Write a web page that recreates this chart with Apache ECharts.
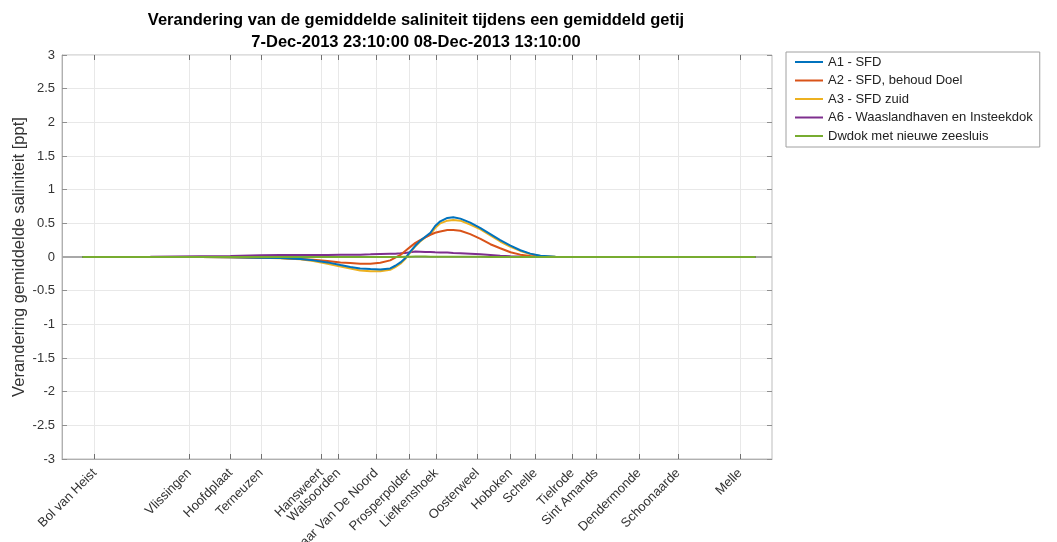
<!DOCTYPE html>
<html>
<head>
<meta charset="utf-8">
<script src="https://cdn.jsdelivr.net/npm/echarts@6/dist/echarts.min.js"></script>
<style>
html,body{margin:0;padding:0;background:#fff;}
#c{width:1057px;height:542px;}
</style>
</head>
<body>
<div id="c"></div>
<script>
// Station names and positions along the estuary (km, axis units)
const stationNames = ['Bol van Heist','Vlissingen','Hoofdplaat','Terneuzen','Hansweert','Walsoorden','Schaar Van De Noord','Prosperpolder','Liefkenshoek','Oosterweel','Hoboken','Schelle','Tielrode','Sint Amands','Dendermonde','Schoonaarde','Melle'];
const stationKm = [8.3, 32.3, 42.7, 50.5, 65.7, 70.1, 79.6, 88.1, 94.9, 105.3, 113.7, 120.0, 129.4, 135.4, 146.3, 156.2, 171.9];

// Sample positions (km)
const km = [5.2, 22.4, 35.1, 42.7, 50.3, 55.3, 60.4, 63.7, 67.3, 70.6, 73.1, 75.6, 78.2, 80.7, 83.2, 84.5, 85.8, 87.0, 88.3, 89.6, 90.8, 92.1, 93.4, 94.6, 95.9, 97.7, 99.2, 101.0, 103.5, 106.1, 108.6, 111.1, 113.7, 116.2, 118.7, 121.3, 125.1, 149.1, 175.8];

const a1 = [0, 0, 0, -0.005, -0.01, -0.015, -0.03, -0.05, -0.08, -0.12, -0.15, -0.17, -0.18, -0.185, -0.17, -0.13, -0.08, -0.02, 0.08, 0.17, 0.24, 0.30, 0.36, 0.46, 0.53, 0.58, 0.59, 0.57, 0.51, 0.43, 0.34, 0.25, 0.17, 0.10, 0.05, 0.02, 0.003, 0, 0];
const a2 = [0, 0, 0, -0.005, -0.01, -0.015, -0.03, -0.04, -0.06, -0.08, -0.09, -0.10, -0.10, -0.085, -0.05, -0.01, 0.03, 0.09, 0.15, 0.21, 0.25, 0.29, 0.33, 0.36, 0.38, 0.40, 0.40, 0.39, 0.34, 0.27, 0.19, 0.13, 0.07, 0.035, 0.015, 0.005, 0, 0, 0];
const a3 = [0, 0, 0, -0.005, -0.012, -0.02, -0.035, -0.06, -0.10, -0.14, -0.17, -0.20, -0.21, -0.21, -0.19, -0.15, -0.10, -0.03, 0.07, 0.16, 0.23, 0.29, 0.34, 0.43, 0.50, 0.54, 0.55, 0.54, 0.48, 0.41, 0.32, 0.23, 0.15, 0.09, 0.045, 0.015, 0.003, 0, 0];
const a6 = [0, 0.003, 0.01, 0.015, 0.025, 0.03, 0.03, 0.03, 0.03, 0.032, 0.033, 0.035, 0.04, 0.045, 0.05, 0.05, 0.055, 0.06, 0.07, 0.08, 0.078, 0.075, 0.073, 0.07, 0.068, 0.065, 0.06, 0.055, 0.048, 0.04, 0.03, 0.02, 0.012, 0.006, 0.002, 0, 0, 0, 0];
const dw = [0, 0, 0, 0, 0, 0, 0, 0, 0, 0, 0, 0, 0, 0, 0, 0, 0, 0.003, 0.005, 0.006, 0.006, 0.006, 0.005, 0.005, 0.004, 0.004, 0.003, 0.003, 0.002, 0.002, 0.001, 0, 0, 0, 0, 0, 0, 0, 0];

const seriesNames = ['A1 - SFD','A2 - SFD, behoud Doel','A3 - SFD zuid','A6 - Waaslandhaven en Insteekdok','Dwdok met nieuwe zeesluis'];
const seriesValues = [a1, a2, a3, a6, dw];
const colors = ['#0072BD','#D95319','#EDB120','#7E2F8E','#77AC30'];

const FONT = '"Liberation Sans", Arial, Helvetica, sans-serif';
const chart = echarts.init(document.getElementById('c'), null, {renderer:'canvas'});

function pairs(vals){ return km.map((x,i)=>[x, vals[i]]); }

const series = seriesNames.map((n,i)=>({
  name:n, type:'line', data:pairs(seriesValues[i]), symbol:'none',
  lineStyle:{width:2, color:colors[i]}, itemStyle:{color:colors[i]},
  z: 10 - i, animation:false,
  markLine: i===0 ? {silent:true, symbol:'none', label:{show:false},
    lineStyle:{color:'#a8a8a8', width:2, type:'solid'}, data:[{yAxis:0}], z:1} : undefined
}));
series[4].z = 11;

const labelMap = {};
stationKm.forEach((v,i)=>{ labelMap[v] = stationNames[i]; });

chart.setOption({
  animation:false,
  backgroundColor:'#ffffff',
  textStyle:{fontFamily:FONT},
  title:{
    text:'Verandering van de gemiddelde saliniteit tijdens een gemiddeld getij\n7-Dec-2013 23:10:00 08-Dec-2013 13:10:00',
    left:411, top:4, textAlign:'center',
    textStyle:{fontFamily:FONT, fontSize:16.5, fontWeight:'bold', color:'#000', lineHeight:22}
  },
  legend:{
    orient:'vertical', left:786, top:52,
    data:seriesNames, icon:'rect', itemWidth:28, itemHeight:2, itemGap:4.5,
    borderColor:'#a0a0a0', borderWidth:1, padding:[3,7,4,9],
    textStyle:{fontFamily:FONT, fontSize:13, color:'#222', lineHeight:14},
    selectedMode:false
  },
  grid:{left:62, right:285, top:55, bottom:83, show:true, borderColor:'#bdbdbd', borderWidth:1,
    containLabel:false, outerBoundsMode:'none'},
  xAxis:[{
    type:'value', min:0, max:180, position:'bottom',
    axisLine:{show:true, onZero:false, lineStyle:{color:'#b0b0b0'}},
    axisTick:{show:true, inside:true, length:5, lineStyle:{color:'#707070'}, customValues:stationKm},
    axisLabel:{show:true, rotate:45, margin:12, fontSize:13, color:'#333', fontFamily:FONT,
      customValues:stationKm, formatter:v=>labelMap[v]||''},
    splitLine:{show:true, lineStyle:{color:'#e8e8e8', width:1}}
  },{
    type:'value', min:0, max:180, position:'top',
    axisLine:{show:false, onZero:false},
    axisTick:{show:true, inside:true, length:5, lineStyle:{color:'#707070'}, customValues:stationKm},
    axisLabel:{show:false}, splitLine:{show:false}
  }],
  yAxis:[{
    type:'value', min:-3, max:3, interval:0.5,
    name:'Verandering gemiddelde saliniteit [ppt]', nameLocation:'middle', nameGap:34, nameMoveOverlap:false,
    nameTextStyle:{fontFamily:FONT, fontSize:16.5, color:'#333'},
    axisLine:{show:true, onZero:false, lineStyle:{color:'#b0b0b0'}},
    axisTick:{show:true, inside:true, length:5, lineStyle:{color:'#909090'}},
    axisLabel:{fontSize:13, color:'#333', margin:7, fontFamily:FONT},
    splitLine:{show:true, lineStyle:{color:'#e8e8e8', width:1}}
  },{
    type:'value', min:-3, max:3, interval:0.5, position:'right',
    axisLine:{show:false, onZero:false},
    axisTick:{show:true, inside:true, length:5, lineStyle:{color:'#909090'}},
    axisLabel:{show:false}, splitLine:{show:false}
  }],
  series:series
});
</script>
</body>
</html>
